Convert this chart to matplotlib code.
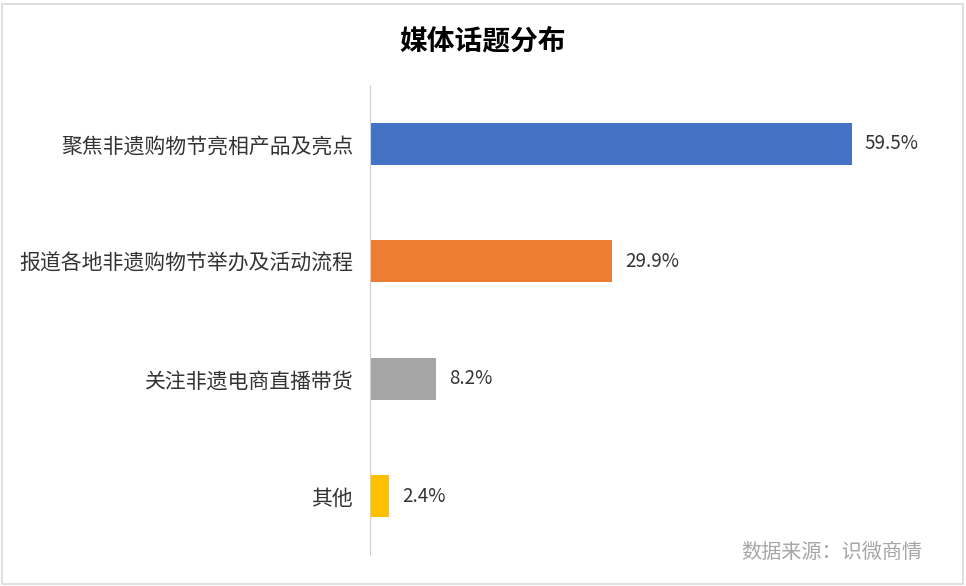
import matplotlib.pyplot as plt
from matplotlib.patches import Rectangle

plt.rcParams['font.family'] = ['Noto Sans CJK SC', 'DejaVu Sans']

categories = ['聚焦非遗购物节亮相产品及亮点', '报道各地非遗购物节举办及活动流程', '关注非遗电商直播带货', '其他']
values = [59.5, 29.9, 8.2, 2.4]
colors = ['#4472C4', '#ED7D31', '#A5A5A5', '#FFC000']

fig = plt.figure(figsize=(9.66, 5.86), dpi=100)
ax = fig.add_axes([0.383, 0.053, 0.587, 0.802])

ypos = list(range(len(categories)))
ax.barh(ypos, values, height=0.36, color=colors)
for y, v in zip(ypos, values):
    ax.text(v + 1.6, y, f'{v}%', va='center', ha='left', fontsize=13.5, color='#333333')

ax.set_yticks(ypos)
ax.set_yticklabels(categories, fontsize=15, color='#333333')
ax.tick_params(axis='y', length=0, pad=12)
ax.set_xticks([])
ax.set_xlim(0, 70)
ax.set_ylim(3.5, -0.5)
for s in ['top', 'right', 'bottom']:
    ax.spines[s].set_visible(False)
ax.spines['left'].set_color('#D0D0D0')

fig.text(0.5, 0.93, '媒体话题分布', ha='center', va='center', fontsize=20, fontweight='bold', color='black')
fig.text(0.955, 0.058, '数据来源：识微商情', ha='right', va='center', fontsize=14.5, color='#A6A6A6')

fig.patches.append(Rectangle((0.002, 0.004), 0.995, 0.99, transform=fig.transFigure,
                             fill=False, edgecolor='#D9D9D9', linewidth=1.2))

fig.savefig('out.png', dpi=100)
